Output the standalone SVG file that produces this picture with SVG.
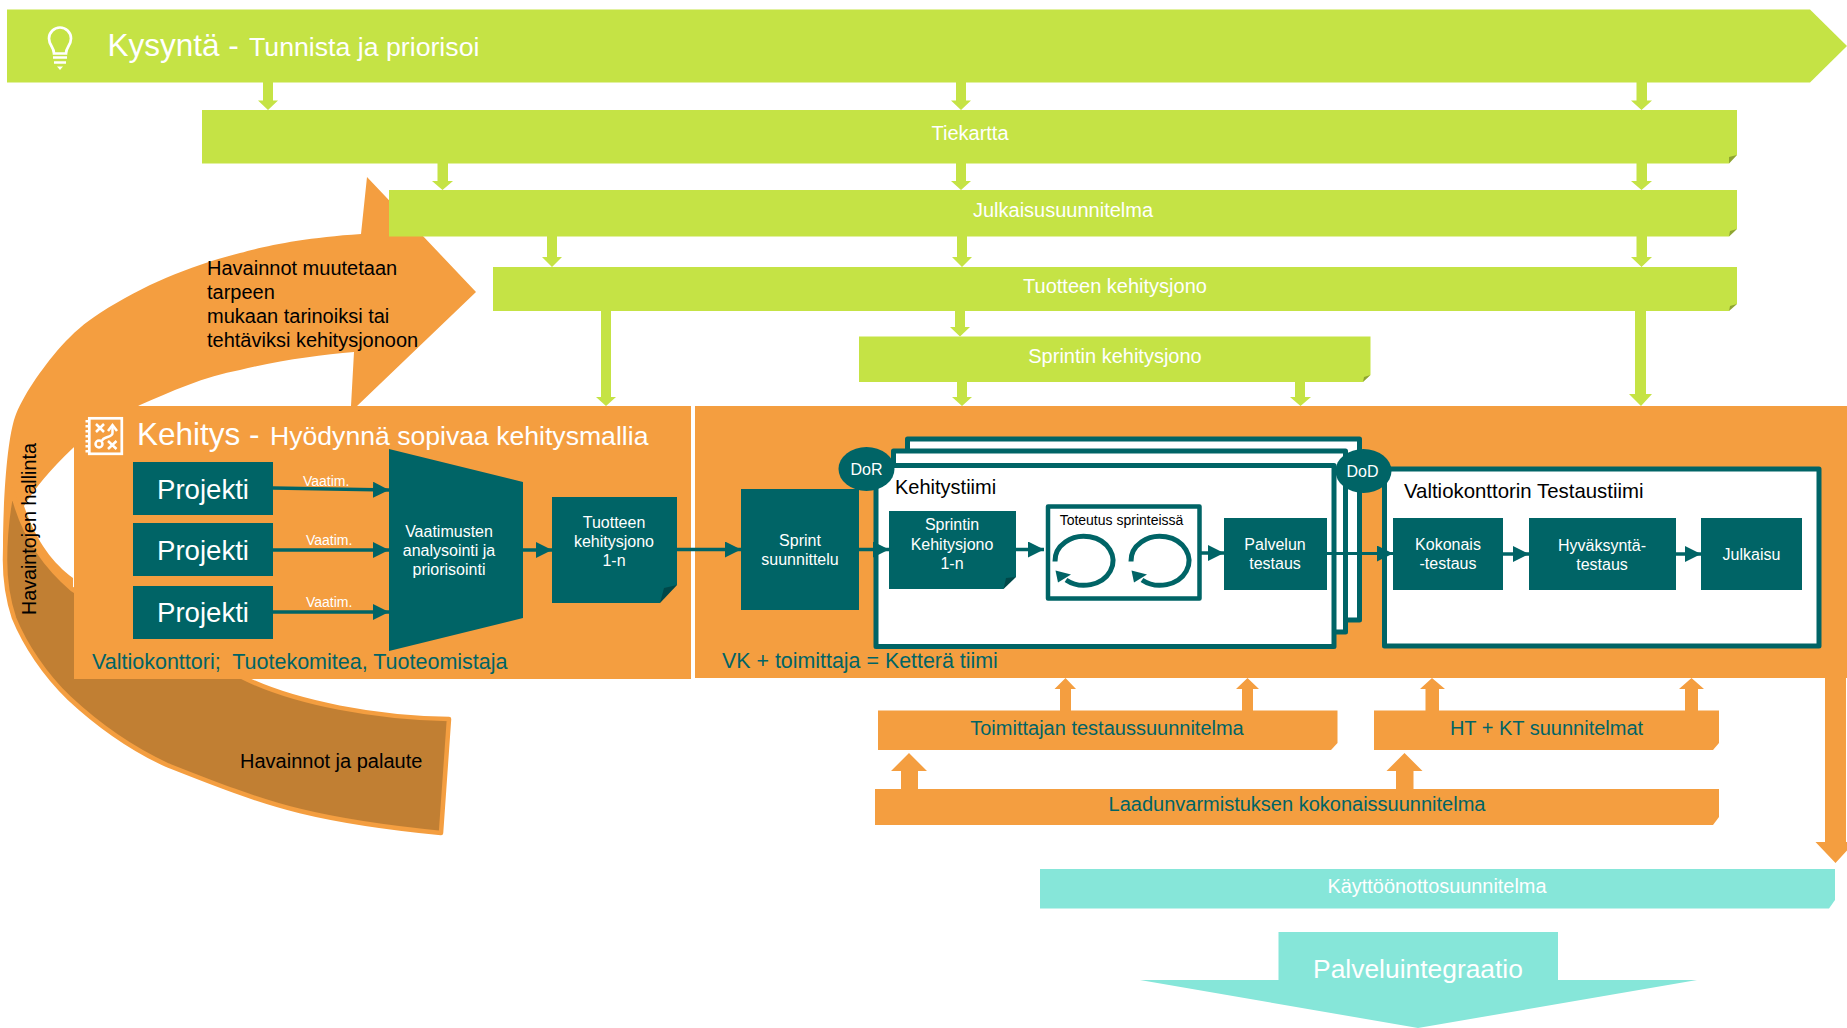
<svg xmlns="http://www.w3.org/2000/svg" width="1847" height="1028" viewBox="0 0 1847 1028">
<style>
text{font-family:"Liberation Sans",Arial,sans-serif;white-space:pre}
.lime{fill:#C5E345}.org{fill:#F49E40}.teal{fill:#006466}.aqua{fill:#86E6D9}
.w{fill:#fff}.tl{fill:#006466}.k{fill:#000}
.m{text-anchor:middle}
.s16{font-size:16px}.s20{font-size:20px}
.fold{fill:#000;fill-opacity:.28}
.frame{fill:#fff;stroke:#006466;stroke-width:5;stroke-linejoin:round}
.conn{fill:none;stroke:#006466;stroke-width:3.5;marker-end:url(#head)}
.ic{fill:none;stroke:#fff;stroke-width:2.7}
.loop{fill:none;stroke:#006466;stroke-width:5}
</style>
<defs>
<marker id="head" markerUnits="userSpaceOnUse" markerWidth="16" markerHeight="16" refX="16" refY="8" orient="auto"><path d="M0,0L16,8L0,16z" fill="#006466"/></marker>
</defs>
<rect width="1847" height="1028" fill="#fff"/>

<g id="feedback-arrows">
<path class="org" d="M361,234C300,238 262,247 240,253C190,266 145,284 100,313C70,332 50,358 33,383C25,395 18,408 15,417C8,437 3,490 3,550L25,640L73,600V578C53,563 37,543 24,506C35,488 50,470 73,448C95,430 115,418 140,405C170,392 205,376 240,370C280,360 320,355 354,352L351,406L357,406L476,292L367,177Z"/>
<path d="M12,490C20,525 38,560 72,589C120,620 180,653 240,676C295,704 380,718 449,719L441,833C390,828 345,822 300,811C255,800 210,782 167,765C130,748 98,725 69,698C45,675 25,645 14,618C8,600 5,580 5,560C5,535 8,510 12,490Z" fill="#C17F33" stroke="#F49E40" stroke-width="4.500" stroke-linejoin="round"/>
<text transform="translate(36,615) rotate(-90)" font-size="19.7" class="k">Havaintojen hallinta</text>
<text x="207" y="275" font-size="20" class="k">Havainnot muutetaan</text>
<text x="207" y="299" font-size="20" class="k">tarpeen</text>
<text x="207" y="323" font-size="20" class="k">mukaan tarinoiksi tai</text>
<text x="207" y="347" font-size="20" class="k">tehtäviksi kehitysjonoon</text>
<text x="240" y="768" font-size="20" class="k">Havainnot ja palaute</text>
</g>

<g id="kysynta">
<path class="lime" d="M7,9.5H1810L1847,46L1810,82.5H7Z"/>
<g id="kysynta-icon">
<path class="ic" d="M54,53.500C54,47 49,45.500 49,38.500A11,11 0 0 1 71,38.500C71,45.500 66,47 66,53.500Z"/>
<path d="M53,57.500H67M54,62.500H66" stroke="#fff" stroke-width="2.700" fill="none"/>
<path d="M57,66.500H63L60,70Z" fill="#fff"/>
</g>
<text x="107.500" y="56" font-size="31.500" class="w">Kysyntä -</text>
<text x="249" y="56" font-size="26.700" class="w">Tunnista ja priorisoi</text>
</g>

<g id="tiekartta">
<path class="lime" d="M202,110H1737V155L1729,163.500H202Z"/><path class="fold" d="M1737,155L1729,157L1729,163.500Z"/>
<text x="970" y="140" class="w m s20">Tiekartta</text>
</g>
<g id="julkaisusuunnitelma">
<path class="lime" d="M389,190H1737V229L1729,236.500H389Z"/><path class="fold" d="M1737,229L1730,231L1729,236.500Z"/>
<text x="1063" y="217" class="w m s20">Julkaisusuunnitelma</text>
</g>
<g id="tuotteen-kehitysjono">
<path class="lime" d="M493,267H1737V304L1729,311H493Z"/><path class="fold" d="M1737,304L1730,306L1729,311Z"/>
<text x="1115" y="293" class="w m s20">Tuotteen kehitysjono</text>
</g>
<g id="sprintin-kehitysjono">
<path class="lime" d="M859,336.500H1370.500V375L1363,382H859Z"/><path class="fold" d="M1370.500,375L1364,377L1363,382Z"/>
<text x="1115" y="363" class="w m s20">Sprintin kehitysjono</text>
</g>

<g id="kehitys">
<rect class="org" x="74" y="406" width="617" height="273"/>
<g id="kehitys-icon">
<rect class="ic" x="89.300" y="418.300" width="32.500" height="35.500"/>
<path d="M87,420V454" stroke="#fff" stroke-width="3" stroke-dasharray="2.500 2.500" fill="none"/>
<path d="M96,424L104,432M104,424L96,432M108,441L116.500,449M116.500,441L108,449" stroke="#fff" stroke-width="2.500" fill="none"/>
<circle cx="99" cy="444" r="3.500" fill="none" stroke="#fff" stroke-width="2.500"/>
<path d="M112.500,427V433C112.500,438 103,436 102,441" stroke="#fff" stroke-width="2.500" fill="none"/>
<path d="M108,431L112.500,425L117,431" stroke="#fff" stroke-width="2.500" fill="none"/>
</g>
<text x="137" y="445" font-size="31.500" class="w">Kehitys -</text>
<text x="270" y="445" font-size="26.600" class="w">Hyödynnä sopivaa kehitysmallia</text>
<text x="92" y="669" font-size="21.500" class="tl">Valtiokonttori;  Tuotekomitea, Tuoteomistaja</text>
</g>
<g id="projekti-1"><rect class="teal" x="133" y="462" width="140" height="53"/><text x="203" y="499" font-size="27.600" class="w m">Projekti</text></g>
<g id="projekti-2"><rect class="teal" x="133" y="523" width="140" height="53"/><text x="203" y="560" font-size="27.600" class="w m">Projekti</text></g>
<g id="projekti-3"><rect class="teal" x="133" y="586" width="140" height="53"/><text x="203" y="622" font-size="27.600" class="w m">Projekti</text></g>
<g id="vaatimusten-analysointi">
<path class="teal" d="M389,449L523,482V618L389,651Z"/>
<text x="449" y="537" class="w m s16">Vaatimusten</text>
<text x="449" y="556" class="w m s16">analysointi ja</text>
<text x="449" y="575" class="w m s16">priorisointi</text>
</g>
<g id="tuotteen-kehitysjono-1n">
<path class="teal" d="M552,497H677V585L660,603H552Z"/><path class="fold" d="M677,585L664,588L660,603Z"/>
<text x="614" y="528" class="w m s16">Tuotteen</text>
<text x="614" y="547" class="w m s16">kehitysjono</text>
<text x="614" y="566" class="w m s16">1-n</text>
</g>

<g id="ketera-tiimi">
<rect class="org" x="695" y="406" width="1152" height="272"/>
<text x="722" y="668" font-size="21.400" class="tl">VK + toimittaja = Ketterä tiimi</text>
</g>
<g id="sprint-suunnittelu">
<rect class="teal" x="741" y="489" width="118" height="121"/>
<text x="800" y="546" class="w m s16">Sprint</text>
<text x="800" y="565" class="w m s16">suunnittelu</text>
</g>
<g id="kehitystiimi">
<rect class="frame" x="907.500" y="439" width="452" height="181"/>
<rect class="frame" x="893.500" y="451" width="452" height="181"/>
<rect class="frame" x="876" y="465.500" width="458" height="181"/>
<text x="895" y="494" class="k s20">Kehitystiimi</text>
</g>
<g id="dor"><ellipse class="teal" cx="866.500" cy="469" rx="28" ry="22"/><text x="866.500" y="475" class="w m s16">DoR</text></g>
<g id="sprintin-kehitysjono-1n">
<path class="teal" d="M889,511H1016V577L1003.500,589H889Z"/><path class="fold" d="M1016,577L1006,578L1003.500,589Z"/>
<text x="952" y="530" class="w m s16">Sprintin</text>
<text x="952" y="550" class="w m s16">Kehitysjono</text>
<text x="952" y="569" class="w m s16">1-n</text>
</g>
<g id="toteutus">
<rect x="1048" y="506.500" width="151.500" height="92" fill="#fff" stroke="#006466" stroke-width="4.500" stroke-linejoin="round"/>
<text x="1121.500" y="525" font-size="14" class="k m">Toteutus sprinteissä</text>
<path class="loop" d="M1055,561.500A29,24.500 0 1 1 1066,580"/><path class="teal" d="M1055.500,570.500L1071,574.500L1058,582.500Z"/>
<path class="loop" d="M1131,561.500A29,24.500 0 1 1 1142,580"/><path class="teal" d="M1131.500,570.500L1147,574.500L1134,582.500Z"/>
</g>
<g id="palvelun-testaus">
<rect class="teal" x="1224" y="518" width="103" height="72"/>
<text x="1275" y="550" class="w m s16">Palvelun</text>
<text x="1275" y="569" class="w m s16">testaus</text>
</g>
<g id="testaustiimi">
<rect class="frame" x="1384.500" y="469" width="434.500" height="177"/>
<text x="1404" y="498" font-size="20.400" class="k">Valtiokonttorin Testaustiimi</text>
</g>
<g id="dod"><ellipse class="teal" cx="1363.500" cy="471" rx="28" ry="22"/><text x="1362.500" y="477" class="w m s16">DoD</text></g>
<g id="kokonaistestaus">
<rect class="teal" x="1393" y="518" width="110" height="72"/>
<text x="1448" y="550" class="w m s16">Kokonais</text>
<text x="1448" y="569" class="w m s16">-testaus</text>
</g>
<g id="hyvaksyntatestaus">
<rect class="teal" x="1529" y="518" width="147" height="72"/>
<text x="1602" y="551" class="w m s16">Hyväksyntä-</text>
<text x="1602" y="570" class="w m s16">testaus</text>
</g>
<g id="julkaisu">
<rect class="teal" x="1701" y="518" width="101" height="72"/>
<text x="1751.500" y="560" class="w m s16">Julkaisu</text>
</g>

<g id="toimittajan-testaussuunnitelma">
<path class="org" d="M878,710.500H1337.500V743L1331,750H878Z"/>
<text x="1107" y="735" class="tl m s20">Toimittajan testaussuunnitelma</text>
</g>
<g id="ht-kt-suunnitelmat">
<path class="org" d="M1374,710.500H1719V743L1713,750H1374Z"/>
<text x="1546.500" y="735" class="tl m s20">HT + KT suunnitelmat</text>
</g>
<g id="laadunvarmistus">
<path class="org" d="M875,789H1719V817L1713,825H875Z"/>
<text x="1297" y="811" class="tl m s20">Laadunvarmistuksen kokonaissuunnitelma</text>
</g>
<g id="kayttoonotto">
<path class="aqua" d="M1040,869H1835V900L1829,908.500H1040Z"/>
<text x="1437" y="893" font-size="19.900" class="w m">Käyttöönottosuunnitelma</text>
</g>
<g id="palveluintegraatio">
<path class="aqua" d="M1278.500,932H1558V980H1697L1418,1028L1140,980H1278.500Z"/>
<text x="1418" y="978" font-size="26.400" class="w m">Palveluintegraatio</text>
</g>

<g id="connectors">
<g class="lime">
<path d="M263,82H273V100.500H278L268,110L258,100.500H263Z"/>
<path d="M956,82H966V100.500H971L961,110L951,100.500H956Z"/>
<path d="M1636.500,82H1647V100.500H1652L1641.500,110L1631,100.500H1636.500Z"/>
<path d="M437.500,163H448V181H453L442.500,190L432,181H437.500Z"/>
<path d="M956,163H966V181H971L961,190L951,181H956Z"/>
<path d="M1636.500,163H1647V181H1652L1641.500,190L1631,181H1636.500Z"/>
<path d="M547,236H557V257H562L552,267L542,257H547Z"/>
<path d="M957,236H967V257H972L962,267L952,257H957Z"/>
<path d="M1636.500,236H1647V257H1652L1641.500,267L1631,257H1636.500Z"/>
<path d="M601,311H611V397H616L606,406L596,397H601Z"/>
<path d="M1635,311H1646V394H1652L1641,406L1629,394H1635Z"/>
<path d="M955,311H965V327H970L960,336.500L950,327H955Z"/>
<path d="M957,382H967V397H972L962,406L952,397H957Z"/>
<path d="M1295,382H1305V397H1311L1300.500,406L1290,397H1295Z"/>
</g>
<g class="org">
<path d="M1060,711V689H1054.500L1065.500,678L1076,689H1071V711Z"/>
<path d="M1242,711V689H1236L1247.500,678L1259,689H1253V711Z"/>
<path d="M1425.500,711V689H1420L1432,678L1445,689H1439V711Z"/>
<path d="M1685,711V689H1679L1691.500,678L1704,689H1698V711Z"/>
<path d="M901,789V771H891L909,753L927,771H918V789Z"/>
<path d="M1396,789V771H1386.500L1404.500,753L1422.500,771H1413.500V789Z"/>
<path d="M1825,678H1846V842H1855L1835.500,863L1815.500,842H1825Z"/>
</g>
<path class="conn" d="M273,488L389,490"/>
<path class="conn" d="M273,550H389"/>
<path class="conn" d="M273,612H389"/>
<text x="303" y="486" font-size="14" class="w">Vaatim.</text>
<text x="306" y="545" font-size="14" class="w">Vaatim.</text>
<text x="306" y="607" font-size="14" class="w">Vaatim.</text>
<path class="conn" d="M523,550H552"/>
<path class="conn" d="M677,549.500H741"/>
<path class="conn" d="M859,549.500H889"/>
<path class="conn" d="M1016,549.500H1044"/>
<path class="conn" d="M1201,553H1224"/>
<path class="conn" style="stroke-width:3" d="M1327,553.500H1393"/>
<path class="conn" d="M1503,554H1529"/>
<path class="conn" d="M1676,554H1701"/>
</g>
</svg>
